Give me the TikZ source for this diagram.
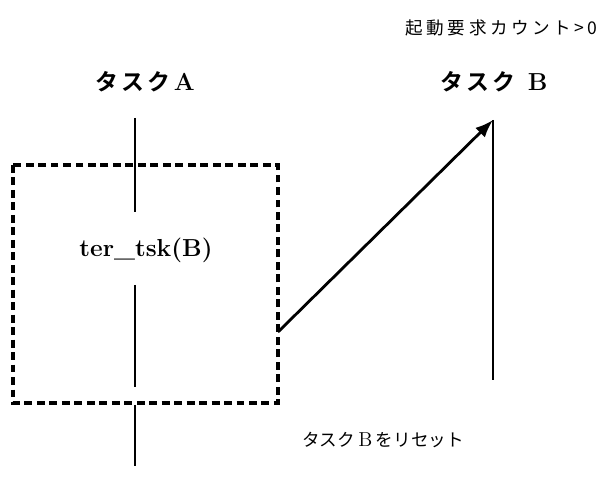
\documentclass[tikz,border=0pt]{standalone}
\usepackage{fontspec}
\newfontfamily\jp{Noto Sans CJK JP}[BoldFont={Noto Sans CJK JP Bold}]
\usetikzlibrary{arrows.meta}
\tikzset{
    > = Latex
}

\begin{document}
\begin{tikzpicture}[x=.02cm, y=-.02cm, line width=.6]
        \tikzstyle{box}=[line width=1.8, dash pattern=on 4.5pt off 2.6pt]
        \tikzstyle{lbl}=[inner sep=0, font=\jp\bfseries\fontsize{13}{15}\selectfont\addfontfeature{LetterSpace=15}]
        \useasboundingbox (0,0) rectangle (600,497);
        % labels
        \node[inner sep=0, anchor=east, font=\jp\fontsize{10}{12}\selectfont\addfontfeature{LetterSpace=20}] (cnt) at (598,28) {起動要求カウント>0};
        \node[lbl] (taskA) at (145,82) {タスク\textrm{\bfseries\fontsize{14}{16}\selectfont A}};
        \node[lbl] (taskB) at (494,82) {タスク \textrm{\bfseries\fontsize{14}{16}\selectfont B}};
        \node[inner sep=0, font=\bfseries\fontsize{14}{16}\selectfont] (call) at (146,250) {ter\_tsk(B)};
        \node[inner sep=0, font=\jp\fontsize{10}{12}\selectfont] (reset) at (383,440) {タスク\hspace{.2em}\textrm{\fontsize{11.5}{13}\selectfont B}\hspace{.2em}をリセット};
        % dashed box
        \draw[box] (13,165) rectangle (278,403);
        % task A
        \draw (135,118) -- (135,212);
        \draw (135,285) -- (135,387);
        \draw (135,405) -- (135,466);
        % task B
        \coordinate (src) at (278,332);
        \coordinate (tip) at (493,120);
        \draw (tip) -- (493,380);
        \draw[->, line width=1.6] (src) -- (tip);
    \end{tikzpicture}
\end{document}
